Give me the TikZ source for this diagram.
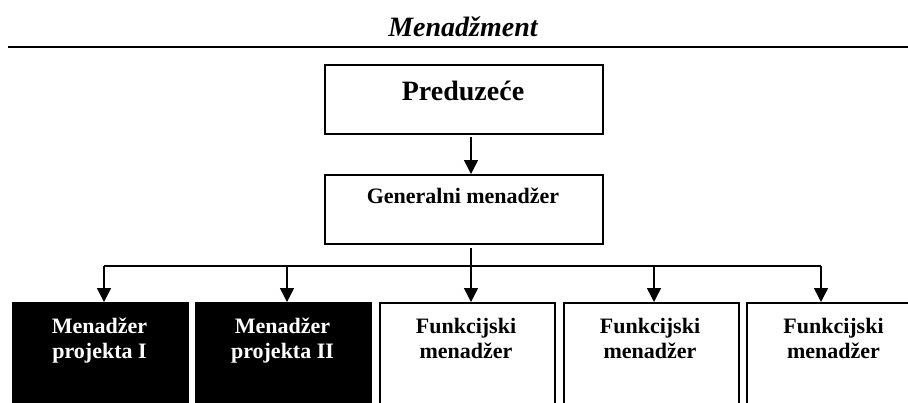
\documentclass[tikz,border=0pt]{standalone}
\usepackage{fontspec}
\setmainfont{Liberation Serif}
\usetikzlibrary{arrows.meta}
\begin{document}
\begin{tikzpicture}[x=1pt,y=-1pt,
 box/.style={draw=black, line width=1.5pt, rectangle, inner sep=0pt, anchor=north west},
 topbox/.style={box, minimum width=278pt, minimum height=69pt},
 lowbox/.style={box, minimum width=175pt, minimum height=130pt},
 darkbox/.style={lowbox, fill=black},
 lbl/.style={font=\bfseries\fontsize{22}{25}\selectfont, anchor=base, inner sep=0pt},
 wlbl/.style={lbl, text=white},
 conn/.style={line width=1.5pt},
 arr/.style={conn, -{Triangle[width=14pt,length=14pt]}}
]
\useasboundingbox (0,0) rectangle (908,402);
\clip (0,0) rectangle (908,402);

% title and rule
\node[font=\bfseries\itshape\fontsize{28}{30}\selectfont, anchor=base, inner sep=0pt] (title) at (463,36) {Menadžment};
\coordinate (rl) at (8,46.7);
\coordinate (rr) at (910,46.7);
\draw[line width=2pt] (rl) -- (rr);

% top boxes
\node[topbox] (pred) at (324,64) {};
\node[lbl, font=\bfseries\fontsize{28}{30}\selectfont] (predt) at (463,100) {Preduzeće};
\node[topbox] (gen) at (324,174) {};
\node[lbl] (gent) at (463,203) {Generalni menadžer};

% bottom boxes
\node[darkbox] (b1) at (12,302) {};
\node[darkbox] (b2) at (195,302) {};
\node[lowbox] (b3) at (379,302) {};
\node[lowbox] (b4) at (563,302) {};
\node[lowbox] (b5) at (746,302) {};

\node[wlbl] (b1a) at (99.5,333) {Menadžer};
\node[wlbl] (b1b) at (99.5,358) {projekta I};
\node[wlbl] (b2a) at (282.5,333) {Menadžer};
\node[wlbl] (b2b) at (282.5,358) {projekta II};
\node[lbl] (b3a) at (466,333) {Funkcijski};
\node[lbl] (b3b) at (466,358) {menadžer};
\node[lbl] (b4a) at (650,333) {Funkcijski};
\node[lbl] (b4b) at (650,358) {menadžer};
\node[lbl] (b5a) at (833.5,333) {Funkcijski};
\node[lbl] (b5b) at (833.5,358) {menadžer};

% connectors
\coordinate (p0) at (471,137);
\coordinate (g0) at (471,248);
\coordinate (c1) at (104,266);
\coordinate (c2) at (287,266);
\coordinate (c4) at (654,266);
\coordinate (c5) at (821,266);
\draw[arr] (p0) -- (p0 |- gen.north);
\draw[conn] (c1) -- (c5);
\draw[arr] (g0) -- (g0 |- b3.north);
\draw[arr] (c1) -- (c1 |- b1.north);
\draw[arr] (c2) -- (c2 |- b2.north);
\draw[arr] (c4) -- (c4 |- b4.north);
\draw[arr] (c5) -- (c5 |- b5.north);
\end{tikzpicture}
\end{document}
